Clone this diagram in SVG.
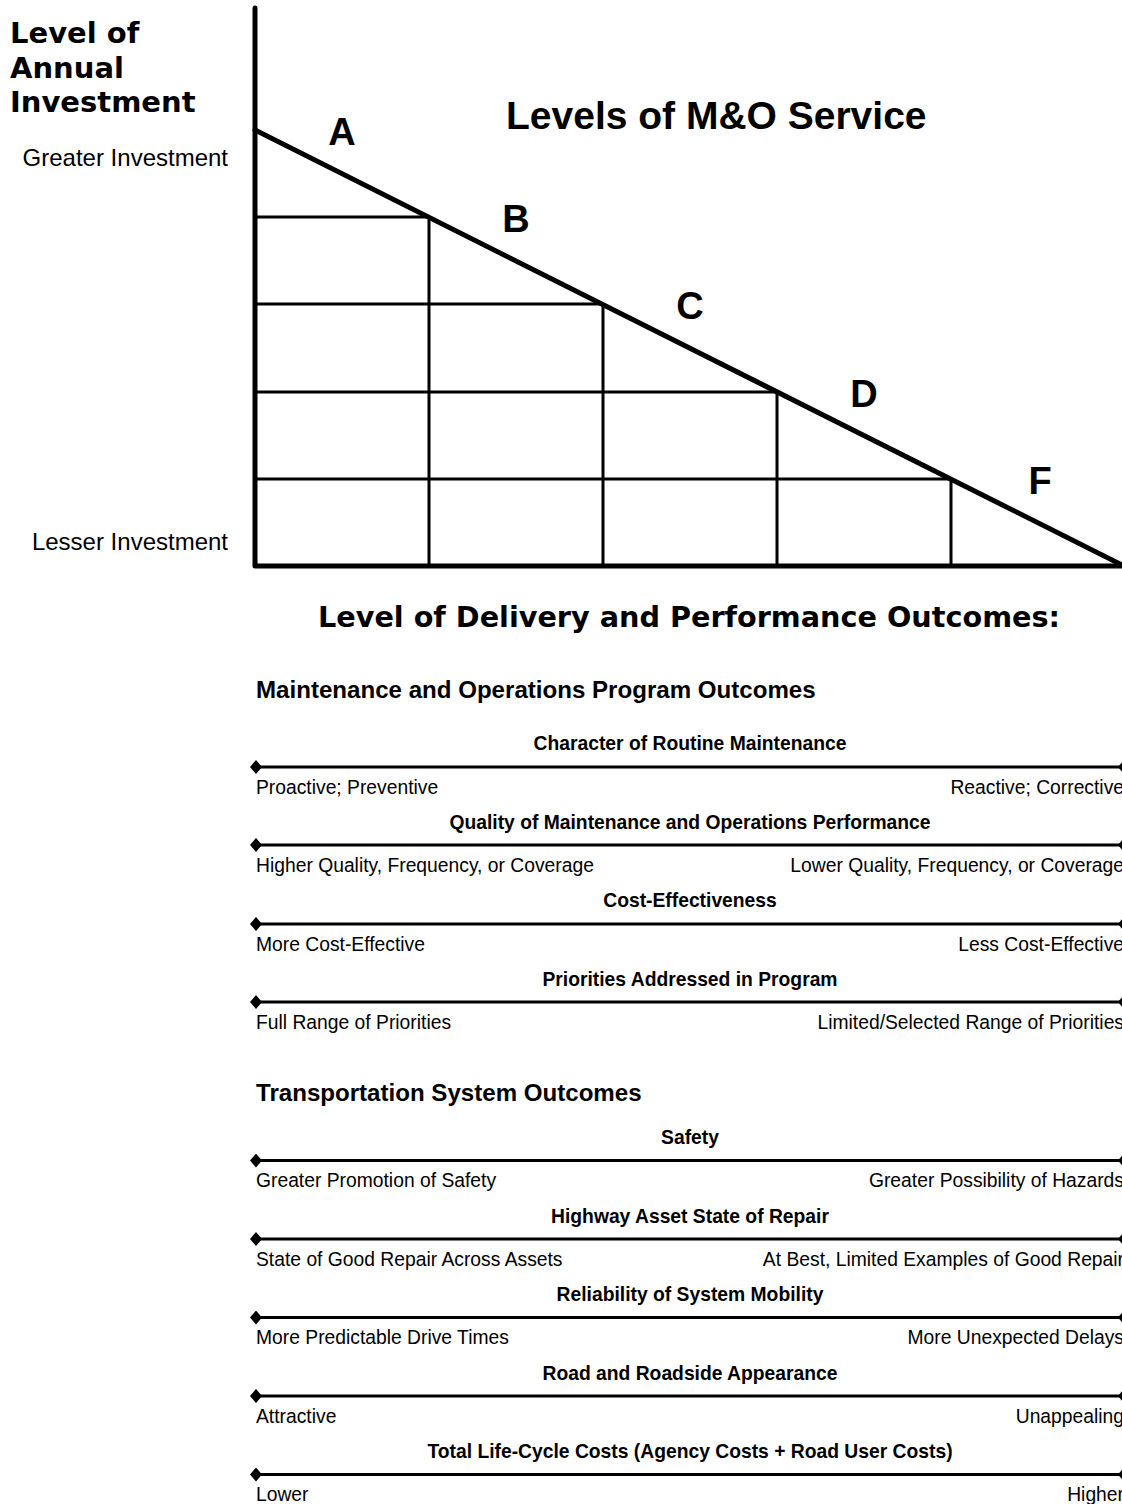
<svg xmlns="http://www.w3.org/2000/svg" width="1122" height="1504" viewBox="0 0 1122 1504">
<style>
.ax{stroke:#000;stroke-width:5;fill:none;stroke-linecap:round;stroke-linejoin:round}
.gr{stroke:#000;stroke-width:3;fill:none}
.sc{stroke:#000;stroke-width:3;fill:none;marker-start:url(#dia);marker-end:url(#dia)}
.vb{font-family:"DejaVu Sans","Verdana",sans-serif;font-weight:bold;font-size:28px;fill:#000}
.vt{font-family:"DejaVu Sans","Verdana",sans-serif;font-weight:bold;font-size:29px;fill:#000}
.ttl{font-family:"Liberation Sans",Arial,sans-serif;font-weight:bold;font-size:39px;fill:#000}
.let{font-family:"Liberation Sans",Arial,sans-serif;font-weight:bold;font-size:38px;fill:#000;text-anchor:middle}
.hd{font-family:"Liberation Sans",Arial,sans-serif;font-weight:bold;font-size:24.1px;fill:#000}
.lb{font-family:"Liberation Sans",Arial,sans-serif;font-weight:bold;font-size:19.3px;fill:#000;text-anchor:middle}
.tx{font-family:"Liberation Sans",Arial,sans-serif;font-size:19.3px;fill:#000}
.ax-l{font-family:"Liberation Sans",Arial,sans-serif;font-size:24px;fill:#000;text-anchor:end}
.r{text-anchor:end}
</style>
<defs>
<marker id="dia" viewBox="0 0 12 14" refX="6" refY="7" markerWidth="12" markerHeight="14" markerUnits="userSpaceOnUse" orient="auto">
<polygon points="0,7 6,0 12,7 6,14" fill="#000"/>
</marker>
</defs>
<rect width="1122" height="1504" fill="#fff"/>

<g id="y-axis-title">
<text class="vt" x="10" y="43">Level of</text>
<text class="vt" x="10" y="78">Annual</text>
<text class="vt" x="10" y="112">Investment</text>
</g>
<g id="y-axis-labels">
<text class="ax-l" x="228" y="166">Greater Investment</text>
<text class="ax-l" x="228" y="550">Lesser Investment</text>
</g>

<g id="chart">
<line class="gr" x1="255" y1="217" x2="429" y2="217"/>
<line class="gr" x1="255" y1="304" x2="603" y2="304"/>
<line class="gr" x1="255" y1="392" x2="777" y2="392"/>
<line class="gr" x1="255" y1="479" x2="951" y2="479"/>
<line class="gr" x1="429" y1="217" x2="429" y2="566"/>
<line class="gr" x1="603" y1="304" x2="603" y2="566"/>
<line class="gr" x1="777" y1="392" x2="777" y2="566"/>
<line class="gr" x1="951" y1="479" x2="951" y2="566"/>
<line class="ax" x1="255" y1="130" x2="1124" y2="566"/>
<polyline class="ax" points="255,8 255,566 1124,566"/>
</g>

<g id="title">
<text class="ttl" x="506" y="129">Levels of M&amp;O Service</text>
</g>
<g id="levels">
<text class="let" x="342" y="145">A</text>
<text class="let" x="516" y="232">B</text>
<text class="let" x="690" y="319">C</text>
<text class="let" x="864" y="407">D</text>
<text class="let" x="1040" y="494">F</text>
</g>

<g id="outcomes-title">
<text class="vb" x="318" y="627" textLength="742" lengthAdjust="spacingAndGlyphs">Level of Delivery and Performance Outcomes:</text>
</g>

<g id="section-mo">
<text class="hd" x="256" y="698">Maintenance and Operations Program Outcomes</text>
</g>

<g id="connectors">
<line class="sc" x1="256" y1="767" x2="1124" y2="767"/>
<line class="sc" x1="256" y1="845" x2="1124" y2="845"/>
<line class="sc" x1="256" y1="924" x2="1124" y2="924"/>
<line class="sc" x1="256" y1="1002" x2="1124" y2="1002"/>
<line class="sc" x1="256" y1="1160.5" x2="1124" y2="1160.5"/>
<line class="sc" x1="256" y1="1239" x2="1124" y2="1239"/>
<line class="sc" x1="256" y1="1317.5" x2="1124" y2="1317.5"/>
<line class="sc" x1="256" y1="1396" x2="1124" y2="1396"/>
<line class="sc" x1="256" y1="1474.5" x2="1124" y2="1474.5"/>
</g>

<g id="row-routine">
<text class="lb" x="690" y="750">Character of Routine Maintenance</text>
<text class="tx" x="256" y="794">Proactive; Preventive</text>
<text class="tx r" x="1124" y="794">Reactive; Corrective</text>
</g>
<g id="row-quality">
<text class="lb" x="690" y="828.5">Quality of Maintenance and Operations Performance</text>
<text class="tx" x="256" y="872">Higher Quality, Frequency, or Coverage</text>
<text class="tx r" x="1124" y="872">Lower Quality, Frequency, or Coverage</text>
</g>
<g id="row-cost">
<text class="lb" x="690" y="907">Cost-Effectiveness</text>
<text class="tx" x="256" y="951">More Cost-Effective</text>
<text class="tx r" x="1124" y="951">Less Cost-Effective</text>
</g>
<g id="row-priorities">
<text class="lb" x="690" y="985.5">Priorities Addressed in Program</text>
<text class="tx" x="256" y="1029">Full Range of Priorities</text>
<text class="tx r" x="1124" y="1029">Limited/Selected Range of Priorities</text>
</g>

<g id="section-ts">
<text class="hd" x="256" y="1101">Transportation System Outcomes</text>
</g>

<g id="row-safety">
<text class="lb" x="690" y="1144">Safety</text>
<text class="tx" x="256" y="1187">Greater Promotion of Safety</text>
<text class="tx r" x="1124" y="1187">Greater Possibility of Hazards</text>
</g>
<g id="row-repair">
<text class="lb" x="690" y="1222.5">Highway Asset State of Repair</text>
<text class="tx" x="256" y="1265.5">State of Good Repair Across Assets</text>
<text class="tx r" x="1124" y="1265.5">At Best, Limited Examples of Good Repair</text>
</g>
<g id="row-mobility">
<text class="lb" x="690" y="1301">Reliability of System Mobility</text>
<text class="tx" x="256" y="1344">More Predictable Drive Times</text>
<text class="tx r" x="1124" y="1344">More Unexpected Delays</text>
</g>
<g id="row-appearance">
<text class="lb" x="690" y="1379.5">Road and Roadside Appearance</text>
<text class="tx" x="256" y="1422.5">Attractive</text>
<text class="tx r" x="1124" y="1422.5">Unappealing</text>
</g>
<g id="row-lifecycle">
<text class="lb" x="690" y="1458">Total Life-Cycle Costs (Agency Costs + Road User Costs)</text>
<text class="tx" x="256" y="1501">Lower</text>
<text class="tx r" x="1124" y="1501">Higher</text>
</g>
</svg>
